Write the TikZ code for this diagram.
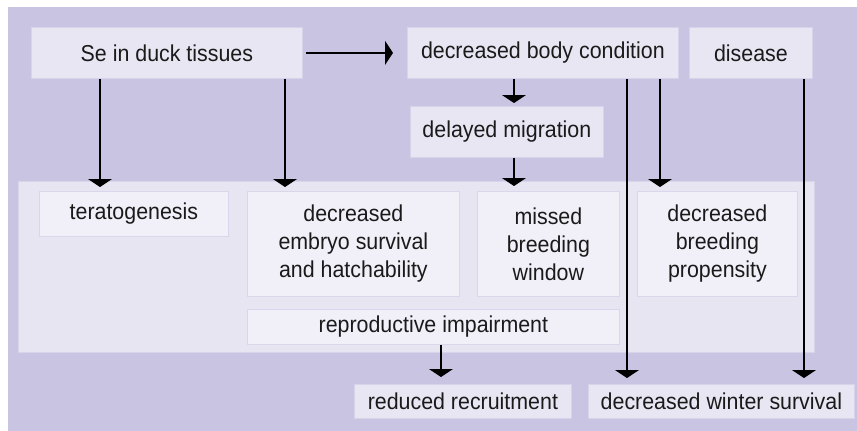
\documentclass[tikz,border=0pt]{standalone}
\usepackage{fontspec}
\setmainfont{Liberation Sans}[FakeStretch=0.93]
\usetikzlibrary{arrows.meta}
\definecolor{bgc}{HTML}{C8C4E1}
\definecolor{topfill}{HTML}{E8E6F3}
\definecolor{topline}{HTML}{D6D3EA}
\definecolor{panelfill}{HTML}{E7E5F2}
\definecolor{panelline}{HTML}{D8D5EB}
\definecolor{innerfill}{HTML}{F1F0F8}
\definecolor{innerline}{HTML}{DAD7EC}
\definecolor{txt}{HTML}{1A1A1A}
\tikzset{
  x=1pt, y=-1pt,
  box/.style={rectangle, anchor=north west, inner sep=0pt, align=center,
    text=txt, font=\fontsize{23}{28}\selectfont},
  topbox/.style={box, fill=topfill, draw=topline, line width=0.8pt},
  innerbox/.style={box, fill=innerfill, draw=innerline, line width=0.8pt},
  arr/.style={line width=1.3pt, draw=black, -{Triangle[width=24pt,length=8pt]}},
}
\begin{document}
\begin{tikzpicture}
\useasboundingbox (0,0) rectangle (857,431);
\fill[bgc] (8,7) rectangle (857,431);
% panel
\node[box, fill=panelfill, draw=panelline, line width=0.8pt, minimum width=796pt, minimum height=171pt] (panel) at (18,181) {};
% top boxes
\node[topbox, minimum width=271pt, minimum height=51pt] (se) at (31,27) {Se in duck tissues};
\node[topbox, minimum width=271pt, minimum height=51pt] (dbc) at (407,27) {decreased body condition};
\node[topbox, minimum width=123pt, minimum height=51pt] (dis) at (689,27) {disease};
\node[topbox, minimum width=193pt, minimum height=51pt] (mig) at (410,106) {delayed migration};
% inner boxes
\node[innerbox, minimum width=189pt, minimum height=45pt] (tera) at (39,191) {teratogenesis};
\node[innerbox, minimum width=212pt, minimum height=105pt] (emb) at (247,191) {decreased\\embryo survival\\and hatchability};
\node[innerbox, minimum width=142pt, minimum height=105pt] (miss) at (477,191) {missed\\breeding\\window};
\node[innerbox, minimum width=160pt, minimum height=105pt] (prop) at (637,191) {decreased\\breeding\\propensity};
\node[innerbox, minimum width=372pt, minimum height=35pt] (rep) at (247,309) {reproductive impairment};
% bottom boxes
\node[topbox, minimum width=217pt, minimum height=34pt] (rec) at (354,384) {reduced recruitment};
\node[topbox, minimum width=266pt, minimum height=34pt] (win) at (588,384) {decreased winter survival};
% x positions of connectors
\coordinate (xa) at (100,0);
\coordinate (xb) at (285,0);
\coordinate (xc) at (514,0);
\coordinate (xd) at (627,0);
\coordinate (xe) at (660,0);
\coordinate (xf) at (804,0);
\coordinate (xg) at (441,0);
% connectors
\draw[arr] ([xshift=3pt]se.east) -- ([xshift=-14pt]dbc.west);
\draw[arr] (se.south -| xa) -- ([yshift=-6pt]panel.north -| xa);
\draw[arr] (se.south -| xb) -- ([yshift=-6pt]panel.north -| xb);
\draw[arr] (dbc.south -| xc) -- ([yshift=3pt]mig.north -| xc);
\draw[arr] (mig.south -| xc) -- ([yshift=-5pt]panel.north -| xc);
\draw[arr] (dbc.south -| xe) -- ([yshift=-6pt]panel.north -| xe);
\draw[arr] (dbc.south -| xd) -- ([yshift=6pt]win.north -| xd);
\draw[arr] (dis.south -| xf) -- ([yshift=6pt]win.north -| xf);
\draw[arr] (rep.south -| xg) -- ([yshift=7pt]rec.north -| xg);
\end{tikzpicture}
\end{document}
